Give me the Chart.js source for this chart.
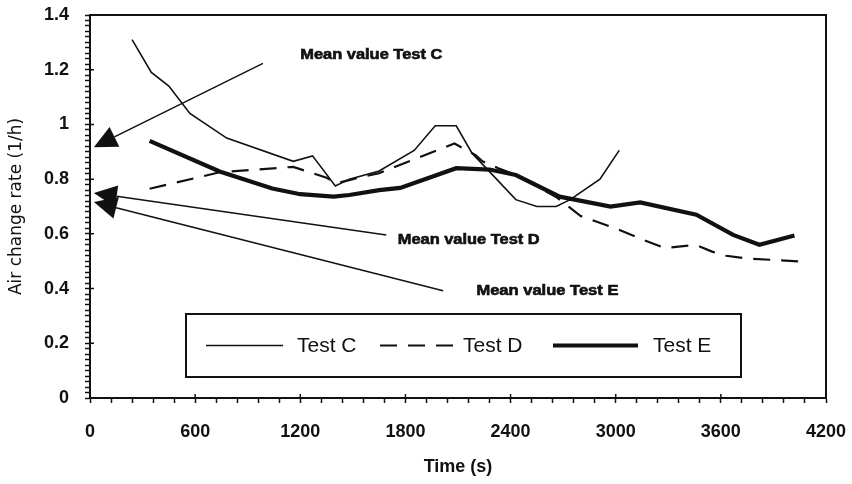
<!DOCTYPE html>
<html>
<head>
<meta charset="utf-8">
<script src="https://cdn.jsdelivr.net/npm/chart.js@4.4.1/dist/chart.umd.min.js"></script>
<style>
  html, body { margin: 0; padding: 0; background: #fff; }
  canvas { display: block; }
</style>
</head>
<body>
<canvas id="chart" width="852" height="484"></canvas>
<script>
// Series names
const seriesNames = ['Test C', 'Test D', 'Test E'];

// Test C: time (s) and air change rate (1/h)
const testCTime = [240, 350, 450, 570, 780, 1160, 1270, 1400, 1480, 1650, 1850, 1970, 2090, 2180, 2430, 2550, 2660, 2740, 2910, 3020];
const testCRate = [1.31, 1.19, 1.14, 1.04, 0.95, 0.865, 0.885, 0.775, 0.80, 0.83, 0.905, 0.995, 0.995, 0.895, 0.725, 0.70, 0.70, 0.725, 0.80, 0.905];

// Test D
const testDTime = [340, 740, 1160, 1350, 1410, 1500, 1650, 2030, 2080, 2200, 2240, 2330, 2450, 2660, 2800, 3000, 3150, 3280, 3400, 3460, 3550, 3630, 3750, 4090];
const testDRate = [0.765, 0.825, 0.845, 0.805, 0.785, 0.80, 0.822, 0.918, 0.93, 0.888, 0.865, 0.84, 0.81, 0.735, 0.665, 0.62, 0.58, 0.548, 0.556, 0.559, 0.535, 0.52, 0.51, 0.498];

// Test E
const testETime = [340, 740, 1040, 1200, 1390, 1480, 1650, 1770, 2090, 2280, 2430, 2680, 2970, 3140, 3460, 3670, 3820, 4020];
const testERate = [0.94, 0.828, 0.766, 0.745, 0.736, 0.742, 0.76, 0.768, 0.84, 0.835, 0.815, 0.736, 0.70, 0.715, 0.67, 0.596, 0.56, 0.594];

// Mean value of each test (where the arrows point on the rate axis)
const meanValues = [0.917, 0.749, 0.716];
const meanLabels = ['Mean value Test C', 'Mean value Test D', 'Mean value Test E'];

// Axis tick labels
const xTickLabels = [0, 600, 1200, 1800, 2400, 3000, 3600, 4200];
const yTickLabels = ['0', '0.2', '0.4', '0.6', '0.8', '1', '1.2', '1.4'];

const INK = '#111';
const TICK_FONT = { family: '"Liberation Sans", Arial, sans-serif', size: 18, weight: 'bold' };

const toPoints = (xs, ys) => xs.map((x, i) => ({ x, y: ys[i] }));

// Arrow callouts: tail and label anchor in axis units, arrow tip at the mean value
const callouts = [
  { tail: { x: 987, y: 1.223 }, label: { x: 1200, y: 1.254 }, tipX: 22 },
  { tail: { x: 1691, y: 0.596 }, label: { x: 1756, y: 0.578 }, tipX: 22 },
  { tail: { x: 2015, y: 0.392 }, label: { x: 2205, y: 0.391 }, tipX: 22 }
];

const calloutPlugin = {
  id: 'callouts',
  afterDatasetsDraw(chart) {
    const { ctx, scales: { x, y } } = chart;
    ctx.save();
    ctx.strokeStyle = INK;
    ctx.fillStyle = INK;
    callouts.forEach((c, i) => {
      const tx = x.getPixelForValue(c.tipX), ty = y.getPixelForValue(meanValues[i]);
      const sx = x.getPixelForValue(c.tail.x), sy = y.getPixelForValue(c.tail.y);
      const dx = tx - sx, dy = ty - sy, len = Math.hypot(dx, dy);
      const ux = dx / len, uy = dy / len;
      const headLen = 23, headHalf = 11;
      const bx = tx - ux * headLen, by = ty - uy * headLen;
      ctx.lineWidth = 1.5;
      ctx.beginPath();
      ctx.moveTo(sx, sy);
      ctx.lineTo(bx, by);
      ctx.stroke();
      ctx.beginPath();
      ctx.moveTo(tx, ty);
      ctx.lineTo(bx - uy * headHalf, by + ux * headHalf);
      ctx.lineTo(bx + uy * headHalf, by - ux * headHalf);
      ctx.closePath();
      ctx.fill();

      // label text, fitted to a fixed width
      const lx = x.getPixelForValue(c.label.x), ly = y.getPixelForValue(c.label.y);
      ctx.font = 'bold 14px "Liberation Sans", Arial, sans-serif';
      ctx.textBaseline = 'middle';
      ctx.textAlign = 'left';
      const w = ctx.measureText(meanLabels[i]).width;
      const k = 142 / w;
      ctx.save();
      ctx.translate(lx, ly);
      ctx.scale(k, 1);
      ctx.lineWidth = 0.6;
      ctx.strokeText(meanLabels[i], 0, 0);
      ctx.fillText(meanLabels[i], 0, 0);
      ctx.restore();
    });
    ctx.restore();
  }
};

const framePlugin = {
  id: 'frame',
  afterDraw(chart) {
    const { ctx, chartArea: a, scales: { x, y } } = chart;
    ctx.save();
    ctx.strokeStyle = INK;
    // plot frame
    ctx.lineWidth = 2;
    ctx.strokeRect(a.left, a.top, a.right - a.left, a.bottom - a.top);
    // inner stubs on the major ticks
    ctx.lineWidth = 1.5;
    ctx.beginPath();
    xTickLabels.forEach(v => {
      const px = x.getPixelForValue(v);
      ctx.moveTo(px, a.bottom); ctx.lineTo(px, a.bottom - 4);
    });
    yTickLabels.forEach(t => {
      const py = y.getPixelForValue(parseFloat(t));
      ctx.moveTo(a.left, py); ctx.lineTo(a.left + 4, py);
    });
    ctx.stroke();
    ctx.restore();
  }
};

const legendBoxPlugin = {
  id: 'legendBox',
  afterDraw(chart) {
    const { ctx } = chart;
    const box = { left: 186, top: 314, right: 741, bottom: 377 };
    const midY = (box.top + box.bottom) / 2;
    const items = [
      { x0: 206, x1: 283, tx: 297 },
      { x0: 380, x1: 460, tx: 463 },
      { x0: 553, x1: 638, tx: 653 }
    ];
    ctx.save();
    ctx.fillStyle = '#fff';
    ctx.fillRect(box.left, box.top, box.right - box.left, box.bottom - box.top);
    ctx.strokeStyle = INK;
    ctx.lineWidth = 2;
    ctx.strokeRect(box.left, box.top, box.right - box.left, box.bottom - box.top);
    chart.data.datasets.forEach((ds, i) => {
      const it = items[i];
      ctx.lineWidth = ds.borderWidth;
      ctx.setLineDash(ds.borderDash || []);
      ctx.beginPath();
      ctx.moveTo(it.x0, midY);
      ctx.lineTo(it.x1, midY);
      ctx.stroke();
      ctx.setLineDash([]);
      ctx.fillStyle = INK;
      ctx.font = '21px "Liberation Sans", Arial, sans-serif';
      ctx.textBaseline = 'middle';
      ctx.textAlign = 'left';
      ctx.fillText(ds.label, it.tx, midY + 1);
    });
    ctx.restore();
  }
};

new Chart(document.getElementById('chart').getContext('2d'), {
  type: 'line',
  data: {
    datasets: [
      { label: seriesNames[0], data: toPoints(testCTime, testCRate), borderColor: INK, borderWidth: 1.6, pointRadius: 0, tension: 0, fill: false },
      { label: seriesNames[1], data: toPoints(testDTime, testDRate), borderColor: INK, borderWidth: 2.2, borderDash: [17, 11], pointRadius: 0, tension: 0, fill: false },
      { label: seriesNames[2], data: toPoints(testETime, testERate), borderColor: INK, borderWidth: 4.2, pointRadius: 0, tension: 0, fill: false }
    ]
  },
  options: {
    responsive: false,
    animation: false,
    devicePixelRatio: 1,
    layout: { padding: { left: 0, top: 15, right: 26, bottom: 0 } },
    plugins: { legend: { display: false }, tooltip: { enabled: false } },
    scales: {
      x: {
        type: 'linear', min: 0, max: 4200,
        afterBuildTicks: s => { s.ticks = []; for (let v = 0; v <= 4200; v += 120) s.ticks.push({ value: v }); },
        afterFit: s => { s.height = 86; s.paddingLeft = 0; s.paddingRight = 0; },
        ticks: {
          autoSkip: false, maxRotation: 0, padding: 18, color: INK, font: TICK_FONT,
          callback: v => (xTickLabels.includes(v) ? String(v) : '')
        },
        grid: { drawOnChartArea: false, tickLength: 5, tickColor: INK, tickWidth: 1.5 },
        border: { color: INK, width: 2 },
        title: { display: true, text: 'Time (s)', color: INK, padding: { top: 0, bottom: 6 },
                 font: { family: '"Liberation Sans", Arial, sans-serif', size: 18, weight: 'bold' } }
      },
      y: {
        type: 'linear', min: 0, max: 1.4,
        afterBuildTicks: s => { s.ticks = []; for (let i = 0; i <= 70; i++) s.ticks.push({ value: i / 50 }); },
        afterFit: s => { s.width = 90; s.paddingTop = 0; s.paddingBottom = 0; },
        ticks: {
          autoSkip: false, padding: 16, color: INK, font: TICK_FONT,
          callback: (v, idx) => (idx % 10 === 0 ? yTickLabels[idx / 10] : '')
        },
        grid: { drawOnChartArea: false, tickLength: 5, tickColor: INK, tickWidth: 1.5 },
        border: { color: INK, width: 2 },
        title: { display: true, text: 'Air change rate (1/h)', color: INK, padding: { top: 6, bottom: 0 },
                 font: { family: '"DejaVu Sans", sans-serif', size: 17 } }
      }
    }
  },
  plugins: [calloutPlugin, framePlugin, legendBoxPlugin]
});
</script>
</body>
</html>
